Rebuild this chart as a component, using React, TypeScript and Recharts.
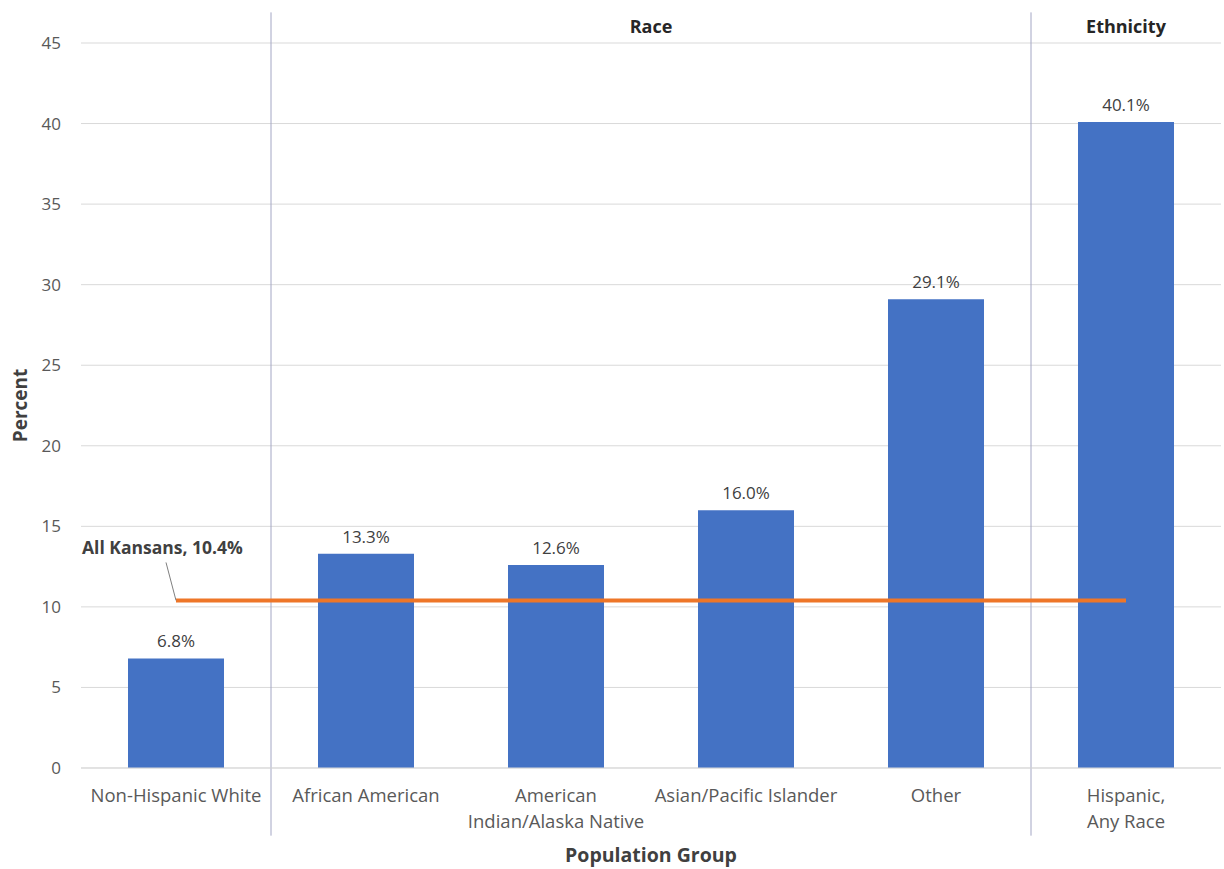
import {
  ComposedChart, Bar, Line, XAxis, YAxis, CartesianGrid, LabelList,
  ReferenceLine, ReferenceArea,
} from 'recharts';

const categories = [
  'Non-Hispanic White',
  'African American',
  'American\nIndian/Alaska Native',
  'Asian/Pacific Islander',
  'Other',
  'Hispanic,\nAny Race',
];
const percents = [6.8, 13.3, 12.6, 16.0, 29.1, 40.1];
const allKansans = 10.4;
const yTicks = [0, 5, 10, 15, 20, 25, 30, 35, 40, 45];
// group headers, by category index range
const groups = [
  { name: 'Race', from: 1, to: 5 },
  { name: 'Ethnicity', from: 5, to: 6 },
];
const separators = [1, 5];

const data = categories.map((c, i) => ({
  name: c,
  pos: i + 0.5,
  pct: percents[i],
  avg: allKansans,
}));

const FONT = '"Open Sans", sans-serif';

const CategoryTick = ({ x, y, payload }: any) => {
  const lines = String(payload.value).split('\n');
  return (
    <text x={x} y={y} textAnchor="middle" fill="#595959" fontSize={18.5} fontFamily={FONT}>
      {lines.map((l, i) => (
        <tspan key={i} x={x} dy={i === 0 ? 26 : 26}>{l}</tspan>
      ))}
    </text>
  );
};

const KansasLabel = (props: any) => {
  const { x, y, index, value } = props;
  if (index !== 0) return null;
  return (
    <g>
      <line x1={x - 10} y1={y - 38} x2={x} y2={y} stroke="#7f7f7f" strokeWidth={1} />
      <text x={x - 94} y={y - 53} dominantBaseline="central" fill="#404040"
        fontSize={17.5} fontWeight={700} fontFamily={FONT}>
        {`All Kansans, ${value}%`}
      </text>
    </g>
  );
};

export default function App() {
  return (
    <div style={{ position: 'absolute', left: 0, top: 0, background: '#fff' }}>
      <ComposedChart width={1224} height={869} data={data}
        margin={{ top: 43, right: 3, bottom: 0, left: 0 }}>
        <CartesianGrid vertical={false} stroke="#d9d9d9" />
        <XAxis dataKey="name" interval={0} height={101} tickLine={false}
          axisLine={{ stroke: '#d9d9d9' }} tick={<CategoryTick />}
          label={{ value: 'Population Group', position: 'insideBottom', offset: 7,
            fill: '#404040', fontSize: 19.5, fontWeight: 700, fontFamily: FONT }} />
        <XAxis xAxisId="num" dataKey="pos" type="number" domain={[0, 6]}
          allowDataOverflow hide />
        <YAxis width={81} domain={[0, 45]} ticks={yTicks} interval={0}
          tickLine={false} axisLine={false} tickMargin={14}
          tick={{ fill: '#595959', fontSize: 17, fontFamily: FONT }}
          label={{ value: 'Percent', angle: -90, position: 'insideLeft', offset: 20,
            style: { textAnchor: 'middle' },
            fill: '#404040', fontSize: 19, fontWeight: 700, fontFamily: FONT }} />
        {separators.map((s) => (
          <ReferenceLine key={s} xAxisId="num" ifOverflow="visible"
            segment={[{ x: s, y: 46.9 }, { x: s, y: -4.2 }]}
            stroke="#a3a6c4" strokeWidth={1} />
        ))}
        {groups.map((g) => (
          <ReferenceArea key={g.name} xAxisId="num" x1={g.from} x2={g.to} y1={44} y2={45}
            fillOpacity={0} strokeOpacity={0}
            label={{ value: g.name, position: 'top', offset: 10, fill: '#262626',
              fontSize: 18, fontWeight: 700, fontFamily: FONT }} />
        ))}
        <Bar dataKey="pct" fill="#4472c4" barSize={96} isAnimationActive={false}>
          <LabelList dataKey="pct" position="top" offset={11}
            formatter={(v: any) => `${Number(v).toFixed(1)}%`}
            fill="#404040" fontSize={17} fontFamily={FONT} />
        </Bar>
        <Line dataKey="avg" stroke="#ee7628" strokeWidth={4} dot={false}
          activeDot={false} isAnimationActive={false}>
          <LabelList dataKey="avg" content={<KansasLabel />} />
        </Line>
      </ComposedChart>
    </div>
  );
}
